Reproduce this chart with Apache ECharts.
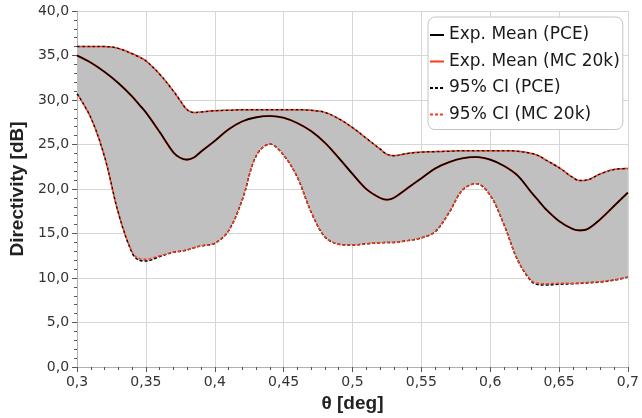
<!DOCTYPE html>
<html>
<head>
<meta charset="utf-8">
<script src="https://cdn.jsdelivr.net/npm/echarts@6/dist/echarts.min.js"></script>
<style>html,body{margin:0;padding:0;background:#fff}#c{width:642px;height:418px}</style>
</head>
<body>
<div id="c"></div>
<script>
const theta = [0.30,0.31,0.32,0.33,0.34,0.345,0.35,0.36,0.37,0.375,0.38,0.385,0.39,0.40,0.41,0.42,0.43,0.44,0.45,0.46,0.47,0.48,0.49,0.50,0.51,0.52,0.525,0.53,0.54,0.55,0.56,0.57,0.58,0.59,0.60,0.61,0.62,0.63,0.635,0.64,0.65,0.66,0.665,0.67,0.68,0.69,0.70];

const pceUpper = [36.0,36.0,36.0,35.8,35.2,34.85,34.4,32.9,31.0,29.9,28.9,28.6,28.65,28.8,28.85,28.9,28.9,28.9,28.9,28.9,28.85,28.6,27.9,26.9,25.7,24.5,23.9,23.75,24.0,24.15,24.2,24.25,24.3,24.3,24.3,24.3,24.25,24.0,23.75,23.3,22.4,21.3,20.95,21.0,21.7,22.2,22.3];
const pceLower = [30.7,28.0,23.6,17.3,12.8,12.0,11.9,12.4,12.9,13.0,13.15,13.4,13.6,13.9,15.3,18.8,23.7,25.05,23.8,21.3,17.4,14.6,13.8,13.7,13.85,13.95,14.0,14.0,14.2,14.5,15.2,17.3,19.9,20.6,19.3,16.0,12.0,9.6,9.25,9.2,9.3,9.35,9.4,9.45,9.55,9.75,10.1];
const pceMean = [35.0,34.2,33.15,31.9,30.4,29.5,28.6,26.4,24.1,23.5,23.3,23.55,24.2,25.4,26.7,27.6,28.05,28.2,28.0,27.4,26.5,25.2,23.5,21.7,20.0,19.0,18.8,19.0,20.1,21.2,22.3,23.0,23.45,23.6,23.3,22.6,21.5,19.6,18.7,17.8,16.4,15.5,15.35,15.45,16.6,18.1,19.6];

const mcUpper = [36.0,36.0,36.0,35.8,35.2,34.85,34.4,32.9,31.0,29.9,28.9,28.6,28.65,28.8,28.85,28.9,28.9,28.9,28.9,28.9,28.85,28.6,27.9,26.9,25.7,24.5,23.9,23.75,24.0,24.15,24.2,24.25,24.3,24.3,24.3,24.3,24.25,24.0,23.75,23.3,22.4,21.3,20.95,21.0,21.7,22.2,22.3];
const mcLower = [30.7,28.0,23.6,17.3,12.9,12.2,12.1,12.5,12.9,13.0,13.15,13.4,13.6,13.9,15.3,18.8,23.7,25.05,23.8,21.3,17.4,14.6,13.8,13.7,13.85,13.95,14.0,14.0,14.2,14.5,15.2,17.3,19.9,20.6,19.3,16.0,12.0,9.7,9.4,9.35,9.4,9.4,9.45,9.5,9.6,9.8,10.1];
const mcMean = [35.0,34.2,33.15,31.9,30.4,29.5,28.6,26.4,24.1,23.5,23.3,23.55,24.2,25.4,26.7,27.6,28.05,28.2,28.0,27.4,26.5,25.2,23.5,21.7,20.0,19.0,18.8,19.0,20.1,21.2,22.3,23.0,23.45,23.6,23.3,22.6,21.5,19.6,18.7,17.8,16.4,15.5,15.35,15.45,16.6,18.1,19.6];

const seriesNames = ['Exp. Mean (PCE)','Exp. Mean (MC 20k)','95% CI (PCE)','95% CI (MC 20k)'];
const xTicks = {min:0.3, max:0.7, step:0.05};
const yTicks = {min:0, max:40, step:5};

const pairs = (ys) => theta.map((t,i)=>[t, ys[i]]);
// band rows are [value, theta] so that the stacked dimension is the value one
const bandBase = theta.map((t,i)=>[pceLower[i], t]);
const bandSpan = theta.map((t,i)=>[+(pceUpper[i]-pceLower[i]).toFixed(3), t]);

const BLACK = '#000000', RED = '#ff3b1c';
const SM = 0.35;
const FONT = 'DejaVu Sans';
const SOLID_ICON = 'path://M0,0H14V2H0Z';
const DASH_ICON = 'path://M0,0H3V2H0Z M5,0H8V2H5Z M10,0H13V2H10Z M14,0H14.01V2H14Z';

const chart = echarts.init(document.getElementById('c'), null, {renderer:'canvas'});
chart.setOption({
  animation:false,
  backgroundColor:'#fff',
  grid:{left:66,right:12,top:11,bottom:51,containLabel:false},
  legend:{
    data:[
      {name:seriesNames[0],icon:SOLID_ICON,itemStyle:{color:BLACK}},
      {name:seriesNames[1],icon:SOLID_ICON,itemStyle:{color:RED}},
      {name:seriesNames[2],icon:DASH_ICON,itemStyle:{color:BLACK}},
      {name:seriesNames[3],icon:DASH_ICON,itemStyle:{color:RED}}
    ],
    orient:'vertical',
    left:428, top:17,
    padding:[9,3,6,2],
    itemGap:8.5,
    itemWidth:14,
    itemHeight:2,
    backgroundColor:'#fff',
    borderColor:'#c4c4c4',
    borderWidth:1,
    borderRadius:7,
    textStyle:{fontFamily:FONT,fontSize:17,color:'#1a1a1a',lineHeight:18}
  },
  xAxis:{
    type:'value', min:xTicks.min, max:xTicks.max, interval:xTicks.step,
    name:'θ [deg]', nameLocation:'middle', nameGap:21,
    nameTextStyle:{fontFamily:'Liberation Sans',fontWeight:'bold',fontSize:19,color:'#222'},
    axisLine:{show:true,onZero:false,lineStyle:{color:'#b0b0b0',width:1}},
    axisTick:{show:true,length:5,lineStyle:{color:'#555'}},
    minorTick:{show:true,splitNumber:5,length:3,lineStyle:{color:'#555'}},
    axisLabel:{fontFamily:FONT,fontSize:14,color:'#333',margin:8,
      formatter:v=>String(Math.round(v*100)/100).replace('.',',')},
    splitLine:{show:true,lineStyle:{color:'#d6d6d6',width:1}}
  },
  yAxis:{
    type:'value', min:yTicks.min, max:yTicks.max, interval:yTicks.step,
    name:'Directivity [dB]', nameLocation:'middle', nameGap:40, nameRotate:90,
    nameTextStyle:{fontFamily:'Liberation Sans',fontWeight:'bold',fontSize:19,color:'#222'},
    axisLine:{show:true,onZero:false,lineStyle:{color:'#b0b0b0',width:1}},
    axisTick:{show:true,length:5,lineStyle:{color:'#555'}},
    minorTick:{show:true,splitNumber:5,length:3,lineStyle:{color:'#555'}},
    axisLabel:{fontFamily:FONT,fontSize:14,color:'#333',margin:8,
      formatter:v=>v.toFixed(1).replace('.',',')},
    splitLine:{show:true,lineStyle:{color:'#d6d6d6',width:1}}
  },
  series:[
    {name:'bandBase',type:'line',stack:'band',data:bandBase,encode:{x:1,y:0},smooth:SM,symbol:'none',
      lineStyle:{opacity:0,width:0},silent:true,z:1},
    {name:'bandSpan',type:'line',stack:'band',data:bandSpan,encode:{x:1,y:0},smooth:SM,symbol:'none',
      lineStyle:{opacity:0,width:0},areaStyle:{color:'#c0c0c0',opacity:1},silent:true,z:1},
    {name:seriesNames[1],type:'line',data:pairs(mcMean),smooth:SM,symbol:'none',
      lineStyle:{color:RED,width:2},itemStyle:{color:RED},z:3},
    {name:seriesNames[0],type:'line',data:pairs(pceMean),smooth:SM,symbol:'none',
      lineStyle:{color:BLACK,width:1.6},itemStyle:{color:BLACK},z:4},
    {name:seriesNames[2],type:'line',data:pairs(pceUpper),smooth:SM,symbol:'none',
      lineStyle:{color:BLACK,width:1.5,type:[3,2]},itemStyle:{color:BLACK},z:5},
    {name:seriesNames[2],type:'line',data:pairs(pceLower),smooth:SM,symbol:'none',
      lineStyle:{color:BLACK,width:1.5,type:[3,2]},itemStyle:{color:BLACK},z:5},
    {name:seriesNames[3],type:'line',data:pairs(mcUpper),smooth:SM,symbol:'none',
      lineStyle:{color:RED,width:1.5,type:[3,2],dashOffset:2.5},itemStyle:{color:RED},z:6},
    {name:seriesNames[3],type:'line',data:pairs(mcLower),smooth:SM,symbol:'none',
      lineStyle:{color:RED,width:1.5,type:[3,2],dashOffset:2.5},itemStyle:{color:RED},z:6}
  ]
});
</script>
</body>
</html>
